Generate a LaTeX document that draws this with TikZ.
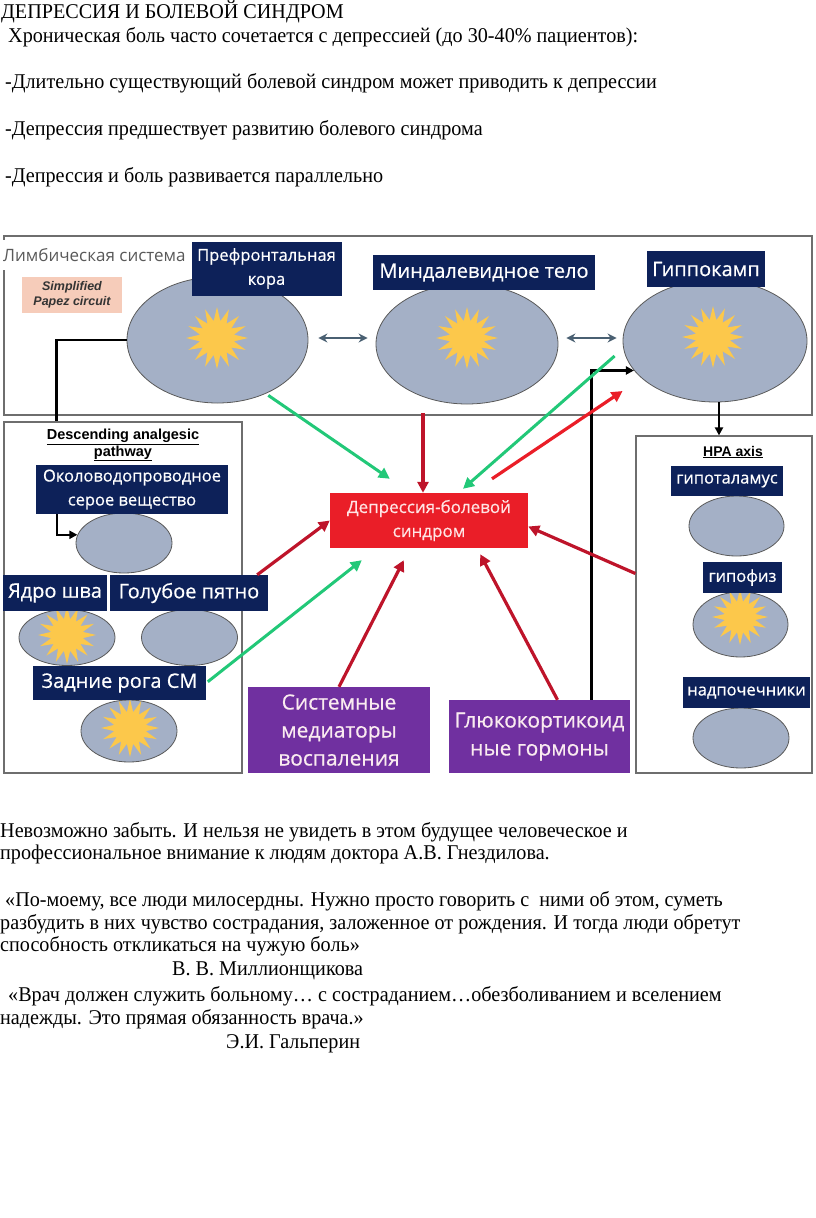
\documentclass[tikz,border=0pt]{standalone}
\usepackage{fontspec}
\setmainfont{Liberation Serif}[FakeStretch=0.96]
\newfontfamily\labelfont{Open Sans}[FakeBold=0.5]
\newfontfamily\greyfont{Open Sans}
\newfontfamily\headfont{Liberation Sans}
\usetikzlibrary{arrows.meta,positioning,shapes.geometric}
\definecolor{navy}{RGB}{13,33,89}
\definecolor{blobfill}{RGB}{164,176,198}
\definecolor{blobline}{RGB}{90,90,90}
\definecolor{sunyellow}{RGB}{252,200,75}
\definecolor{painred}{RGB}{234,30,40}
\definecolor{darkred}{RGB}{190,20,42}
\definecolor{mintgreen}{RGB}{34,200,120}
\definecolor{inflpurple}{RGB}{112,48,160}
\definecolor{arrowgray}{RGB}{74,96,114}
\definecolor{panelgray}{RGB}{110,110,110}
\definecolor{peach}{RGB}{246,204,186}
\begin{document}
\begin{tikzpicture}[x=1pt, y=-1pt,
  txt/.style={anchor=base west, inner sep=0pt, font=\fontsize{21}{23}\selectfont},
  panel/.style={rectangle, draw=panelgray, line width=1.2pt, inner sep=0pt},
  lbl/.style={rectangle, fill=navy, text=white, inner sep=0pt, align=center,
              font=\labelfont\fontsize{20}{24}\selectfont},
  smalllbl/.style={lbl, font=\labelfont\fontsize{16.5}{24}\selectfont},
  blob/.style={ellipse, draw=blobline, fill=blobfill, line width=0.8pt, inner sep=0pt},
  burst/.style={star, star points=16, star point ratio=1.8, fill=sunyellow,
                inner sep=0pt, minimum size=60pt},
  boxtitle/.style={align=center, inner sep=0pt, font=\headfont\bfseries\fontsize{14.5}{17}\selectfont},
  purplebox/.style={rectangle, fill=inflpurple, text=purple!8, inner sep=0pt, align=center,
                    font=\labelfont\fontsize{21}{28}\selectfont},
  redarr/.style={-{Triangle[length=11pt,width=11pt]}, draw=darkred, line width=3.2pt},
  greenarr/.style={-{Triangle[length=11pt,width=11pt]}, draw=mintgreen, line width=3pt},
  blkarr/.style={-{Triangle[length=8pt,width=8pt]}, line width=2.2pt},
  grayarr/.style={{Stealth[length=9pt,width=9pt]}-{Stealth[length=9pt,width=9pt]}, draw=arrowgray, line width=2.5pt}
]
  \useasboundingbox (0,0) rectangle (816,1218);

  \node[txt] (t1) at (1,18.5) {ДЕПРЕССИЯ И БОЛЕВОЙ СИНДРОМ};
  \node[txt] (t2) at (8,42) {Хроническая боль часто сочетается с депрессией (до 30-40\% пациентов):};
  \node[txt] (t3) at (5,88.5) {-Длительно существующий болевой синдром может приводить к депрессии};
  \node[txt] (t4) at (5,135) {-Депрессия предшествует развитию болевого синдрома};
  \node[txt] (t5) at (5,182) {-Депрессия и боль развивается параллельно};

  \node[panel, minimum width=808pt, minimum height=179pt] (limbic) at (408,325.5) {};
  \node[anchor=west, fill=white, inner sep=0pt, minimum height=30pt, text=black!65,
        font=\greyfont\fontsize{17}{20}\selectfont] (limbictitle) at (3,255) {Лимбическая система};
  \node[fill=peach, minimum width=100pt, minimum height=36pt, inner sep=0pt, align=center,
        font=\headfont\bfseries\itshape\fontsize{12.5}{15}\selectfont, text=black!80] (papez) at (72,295) {Simplified\\Papez circuit};

  \node[blob, minimum width=181pt, minimum height=126pt] (pfc) at (217.5,340) {};
  \node[blob, minimum width=182pt, minimum height=120pt] (amyg) at (467,344) {};
  \node[blob, minimum width=184pt, minimum height=122pt] (hipp) at (715,341) {};
  \node[burst, minimum size=62pt] (pfcstar) at (217,338) {};
  \node[burst, minimum size=62pt] (amygstar) at (467,338) {};
  \node[burst, minimum size=62pt] (hippstar) at (713,337) {};
  \node[smalllbl, minimum width=150pt, minimum height=54pt] (pfclbl) at (266.5,268.5) {Префронтальная\\кора};
  \node[lbl, minimum width=222pt, minimum height=35pt] (amyglbl) at (484,272.5) {Миндалевидное тело};
  \node[lbl, minimum width=118pt, minimum height=36pt] (hipplbl) at (706,269) {Гиппокамп};

  \node[panel, minimum width=238pt, minimum height=351pt] (desc) at (123,597.5) {};
  \node[boxtitle] (desctitle) at (123,445) {\underline{Descending analgesic}\\\underline{pathway}};
  \node[blob, minimum width=96pt, minimum height=60pt] (pag) at (124,543) {};
  \node[smalllbl, minimum width=192pt, minimum height=49pt] (paglbl) at (132,489.5) {Околоводопроводное\\серое вещество};
  \node[blob, minimum width=96pt, minimum height=56pt] (raphe) at (67,637.5) {};
  \node[blob, minimum width=96pt, minimum height=56pt] (lc) at (189.5,637.5) {};
  \node[burst, minimum size=58pt] (raphestar) at (67,635) {};
  \node[lbl, minimum width=104pt, minimum height=36pt] (raphelbl) at (55,593) {Ядро шва};
  \node[lbl, minimum width=158pt, minimum height=36pt] (lclbl) at (189,593) {Голубое пятно};
  \node[blob, minimum width=96pt, minimum height=62pt] (dh) at (129,731) {};
  \node[burst, minimum size=58pt] (dhstar) at (130,728) {};
  \node[lbl, minimum width=173pt, minimum height=34pt] (dhlbl) at (119.5,683) {Задние рога СМ};

  \node[rectangle, fill=painred, text=red!10, minimum width=198pt, minimum height=55pt, inner sep=0pt,
        align=center, font=\labelfont\fontsize{17}{24}\selectfont] (ctr) at (429,520.5) {Депрессия-болевой\\синдром};

  \node[purplebox, minimum width=182pt, minimum height=86pt] (sys) at (339,730) {Системные\\медиаторы\\воспаления};
  \node[purplebox, minimum width=181pt, minimum height=73pt] (glu) at (539.5,736.5) {Глюкокортикоид\\ные гормоны};

  \node[panel, minimum width=176pt, minimum height=337pt] (hpa) at (724,604.5) {};
  \node[boxtitle, font=\headfont\bfseries\fontsize{14}{17}\selectfont] (hpatitle) at (733,452) {\underline{HPA axis}};
  \node[blob, minimum width=95pt, minimum height=60pt] (hyp) at (736.5,526) {};
  \node[smalllbl, minimum width=112pt, minimum height=30pt] (hyplbl) at (727,481) {гипоталамус};
  \node[blob, minimum width=95pt, minimum height=65pt] (pit) at (740.5,624.5) {};
  \node[burst, minimum size=56pt] (pitstar) at (740,617) {};
  \node[smalllbl, minimum width=79pt, minimum height=31pt] (pitlbl) at (742.5,577.5) {гипофиз};
  \node[blob, minimum width=96pt, minimum height=60pt] (adr) at (741,738) {};
  \node[smalllbl, minimum width=127pt, minimum height=31pt] (adrlbl) at (746.5,692.5) {надпочечники};

  \draw[grayarr] ([xshift=10pt,yshift=2pt]pfc.east) -- ([xshift=-8pt,yshift=6pt]amyg.west);
  \draw[grayarr] ([xshift=8pt,yshift=6pt]amyg.east) -- ([xshift=-6pt,yshift=3pt]hipp.west);
  \draw[line width=2.2pt] (pfc.west) -| ([xshift=53pt]desc.north west);
  \draw[blkarr] ([xshift=-75pt]paglbl.south) |- (pag.170);
  \draw[blkarr] ([xshift=52pt]glu.north) |- (hipp.-160);
  \draw[blkarr] ([xshift=4pt]hipp.south) -- ([xshift=-5pt]hpa.north);
  \draw[greenarr, shorten <=3pt] (pfc.-48) -- ([xshift=60pt,yshift=14pt]ctr.north west);
  \draw[redarr, shorten <=9pt] ([xshift=-44pt]amyg.south) -- ([xshift=-6pt]ctr.north);
  \draw[greenarr] ([xshift=-8pt,yshift=-15pt]hipp.west) -- ([xshift=34pt,yshift=4pt]ctr.north);
  \draw[redarr, draw=painred] ([xshift=63pt,yshift=14pt]ctr.north) -- ([yshift=-50pt]hipp.west);
  \draw[redarr] ([xshift=-11pt]lclbl.north east) -- (ctr.west);
  \draw[greenarr, shorten <=2pt] (dhlbl.east) -- ([xshift=32pt,yshift=-12pt]ctr.south west);
  \draw[redarr] (sys.north) -- ([xshift=74pt,yshift=-12pt]ctr.south west);
  \draw[redarr] ([xshift=18pt]glu.north) -- ([xshift=-48pt,yshift=-6pt]ctr.south east);
  \draw[redarr] ([yshift=31pt]hpa.west) -- ([yshift=-6pt]ctr.east);

  \node[txt] (b1) at (0,837) {Невозможно забыть. И нельзя не увидеть в этом будущее человеческое и};
  \node[txt] (b2) at (0,859) {профессиональное внимание к людям доктора А.В. Гнездилова.};
  \node[txt] (b3) at (5,906) {«По-моему, все люди милосердны. Нужно просто говорить с\ \ ними об этом, суметь};
  \node[txt] (b4) at (0,929) {разбудить в них чувство сострадания, заложенное от рождения. И тогда люди обретут};
  \node[txt] (b5) at (0,951) {способность откликаться на чужую боль»};
  \node[txt] (b6) at (172,975) {В. В. Миллионщикова};
  \node[txt] (b7) at (8,1001) {«Врач должен служить больному… с состраданием…обезболиванием и вселением};
  \node[txt] (b8) at (0,1024) {надежды. Это прямая обязанность врача.»};
  \node[txt] (b9) at (226,1048) {Э.И. Гальперин};
\end{tikzpicture}
\end{document}
